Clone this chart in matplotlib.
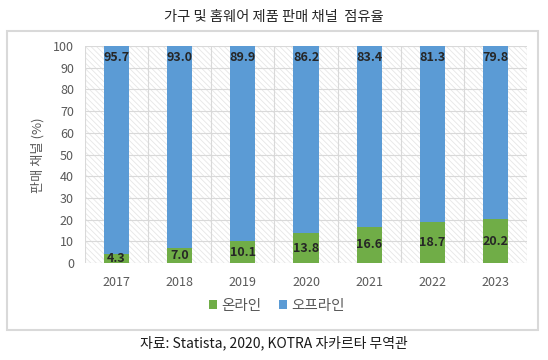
import matplotlib
matplotlib.use("Agg")
import matplotlib.pyplot as plt
from matplotlib.patches import Rectangle
import numpy as np

plt.rcParams['font.family'] = ['Noto Sans CJK KR', 'DejaVu Sans']
plt.rcParams['hatch.linewidth'] = 0.6

years = ['2017', '2018', '2019', '2020', '2021', '2022', '2023']
online = [4.3, 7.0, 10.1, 13.8, 16.6, 18.7, 20.2]
offline = [95.7, 93.0, 89.9, 86.2, 83.4, 81.3, 79.8]
yticks = [0, 10, 20, 30, 40, 50, 60, 70, 80, 90, 100]

title = '가구 및 홈웨어 제품 판매 채널  점유율'
ylabel = '판매 채널 (%)'
caption = '자료: Statista, 2020, KOTRA 자카르타 무역관'
labels = ['온라인', '오프라인']

c_on = '#70AD47'
c_off = '#5B9BD5'
grey = '#595959'

fig = plt.figure(figsize=(5.48, 3.60), dpi=100)
fig.patches.append(Rectangle((7/548, 30/360), 531/548, 299/360, transform=fig.transFigure,
                             fill=False, edgecolor='#d9d9d9', lw=1.5, zorder=0))

ax = fig.add_axes([85/548, 97/360, 442/548, 217/360])
ax.add_patch(Rectangle((0, 0), 1, 1, transform=ax.transAxes, facecolor='white',
                       edgecolor='#e6e6e6', hatch='\\\\\\\\\\\\', lw=0, zorder=0))

x = np.arange(len(years))
w = 0.4
b1 = ax.bar(x, online, w, color=c_on, label=labels[0], zorder=3)
b2 = ax.bar(x, offline, w, bottom=online, color=c_off, label=labels[1], zorder=3)

for xi, v in zip(x, online):
    ax.text(xi, v / 2, f'{v:.1f}', ha='center', va='center', fontsize=9,
            fontweight='bold', color='#262626', zorder=4)
for xi, v, o in zip(x, offline, online):
    ax.text(xi, o + v - 2.2, f'{v:.1f}', ha='center', va='top', fontsize=9,
            fontweight='bold', color='#262626', zorder=4)

ax.set_xlim(-0.5, len(years) - 0.5)
ax.set_ylim(0, 100)
ax.set_yticks(yticks)
ax.set_xticks(x)
ax.set_xticklabels(years)
ax.set_xticks(np.arange(-0.5, len(years), 1), minor=True)
ax.grid(axis='y', which='major', color='#d9d9d9', lw=0.8, zorder=1)
ax.grid(axis='x', which='minor', color='#d9d9d9', lw=0.8, zorder=1)
ax.grid(axis='x', which='major', visible=False)
ax.set_axisbelow(True)
for s in ax.spines.values():
    s.set_visible(False)
ax.tick_params(axis='both', which='both', length=0, colors=grey, labelsize=9)
ax.tick_params(axis='x', pad=9)
ax.tick_params(axis='y', pad=8)

fig.text(38/548, 1 - 155/360, ylabel, rotation=90, ha='center', va='center',
         fontsize=9.5, color=grey)
fig.text(0.5, 1 - 17/360, title, ha='center', va='center', fontsize=10.3, color='#262626')
fig.text(0.5, 1 - 343/360, caption, ha='center', va='center', fontsize=10, color='#1a1a1a')

fig.legend(handles=[b1, b2], labels=labels, loc='center', bbox_to_anchor=(277/548, 1 - 306/360),
           ncol=2, frameon=False, fontsize=10.5, handlelength=0.55, handleheight=0.55,
           handletextpad=0.3, columnspacing=1.2, labelcolor=grey)

fig.savefig('out.png', dpi=100)
